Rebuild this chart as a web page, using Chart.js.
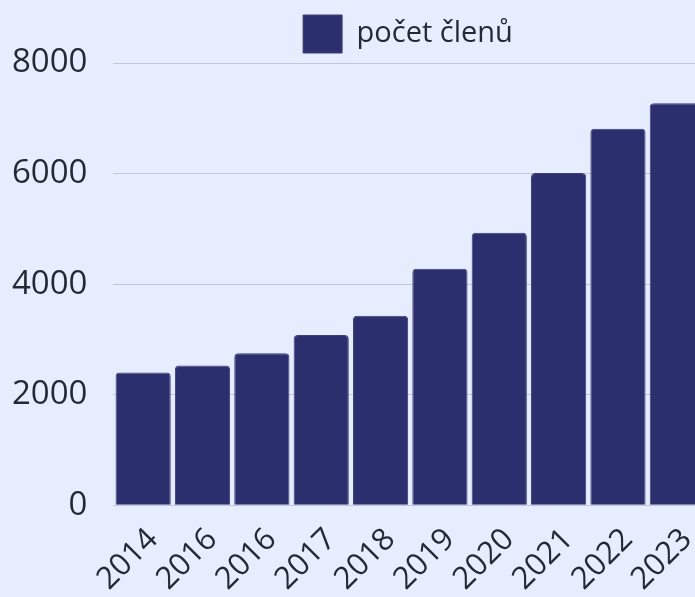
<!DOCTYPE html>
<html><head><meta charset="utf-8">
<script src="https://cdn.jsdelivr.net/npm/chart.js@4/dist/chart.umd.min.js"></script>
<style>
html,body{margin:0;padding:0;background:#e6edff;overflow:hidden;width:695px;height:597px;}
#wrap{position:absolute;left:0;top:0;}
</style></head><body>
<div id="wrap"><canvas id="c" width="830" height="620"></canvas></div>
<script>
const categories = ["2014","2016","2016","2017","2018","2019","2020","2021","2022","2023"];
const members = [2400,2530,2750,3080,3430,4280,4930,6010,6810,7270];
const yTicks = [0,2000,4000,6000,8000];
const seriesLabel = "počet členů";

const FONT = "'Open Sans',sans-serif";
new Chart(document.getElementById('c'), {
  type: 'bar',
  data: {
    labels: categories,
    datasets: [{
      label: seriesLabel,
      data: members,
      backgroundColor: '#2c2f6d',
      borderColor: '#3b3e7b',
      borderWidth: 1,
      borderRadius: 4,
      borderSkipped: 'bottom',
      barPercentage: 0.93,
      categoryPercentage: 1.0
    }]
  },
  options: {
    responsive: false,
    animation: false,
    layout: { padding: { left: -14, right: 0, top: 2, bottom: 1 } },
    plugins: {
      legend: {
        display: true,
        labels: { color: '#1f2a33', font: { family: FONT, size: 29 }, boxWidth: 39, boxHeight: 38, padding: 13 }
      },
      tooltip: { enabled: false }
    },
    scales: {
      x: {
        grid: { display: false, drawTicks: false },
        border: { display: false },
        afterFit: (s) => { s.height = s.height + 15; s.paddingLeft = 0; s.paddingRight = 0; },
        ticks: {
          color: '#1f2a33', font: { family: FONT, size: 31, lineHeight: 0.4465 }, padding: 14.5,
          maxRotation: 45, minRotation: 45, autoSkip: false,
          callback: function (v, i) { return ['', categories[i]]; }
        }
      },
      y: {
        min: 0, max: 8000,
        afterBuildTicks: (s) => { s.ticks = yTicks.map(v => ({ value: v })); },
        grid: { color: '#c0c6db', drawTicks: false },
        border: { display: false },
        ticks: { color: '#1f2a33', font: { family: FONT, size: 33 }, padding: 26, callback: (v) => String(v) }
      },
      ySpacer: {
        type: 'linear', position: 'right', display: true,
        afterFit: (s) => { s.width = 123; },
        grid: { display: false, drawTicks: false },
        border: { display: false },
        ticks: { display: false }
      }
    }
  }
});
</script>
</body></html>
